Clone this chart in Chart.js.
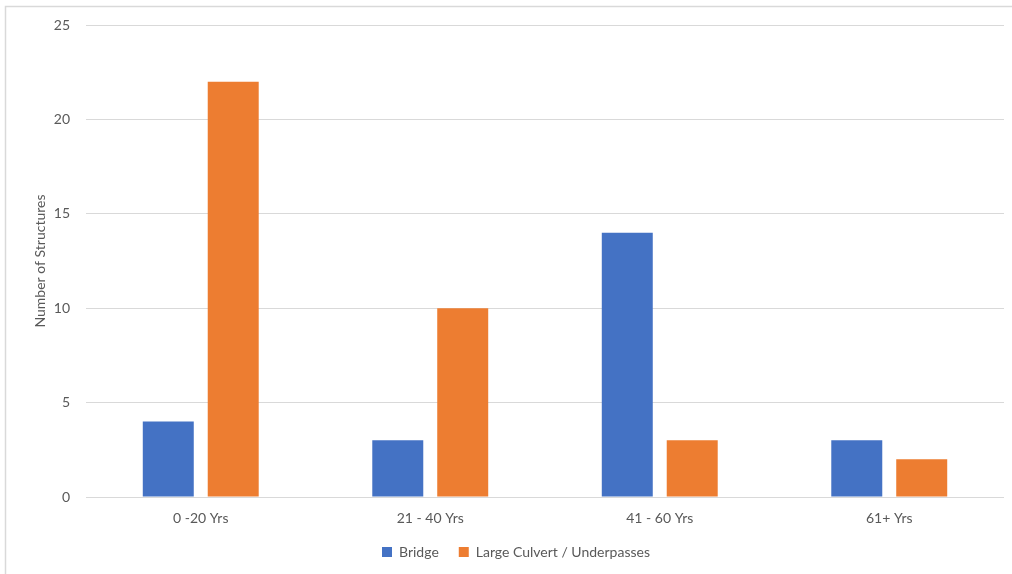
<!DOCTYPE html>
<html>
<head>
<meta charset="utf-8">
<script src="https://cdn.jsdelivr.net/npm/chart.js@4/dist/chart.umd.min.js"></script>
<style>
    html, body { margin: 0; padding: 0; background: #ffffff; }
    #wrap { width: 1012px; height: 574px; position: relative; }
</style>
</head>
<body>
<div id="wrap"><canvas id="ageChart"></canvas></div>
<script>
// Data
const ageGroups = ['0 -20 Yrs', '21 - 40 Yrs', '41 - 60 Yrs', '61+ Yrs'];
const bridgeCounts = [4, 3, 14, 3];
const culvertCounts = [22, 10, 3, 2];
const yTicks = [0, 5, 10, 15, 20, 25];

const textGray = '#595959';
const gridGray = '#d9d9d9';
const labelFont = { family: 'Lato', size: 14 };

// Outer chart frame (Excel-style light border)
const framePlugin = {
    id: 'frame',
    beforeDraw(chart) {
        const ctx = chart.ctx;
        ctx.save();
        ctx.fillStyle = '#ffffff';
        ctx.fillRect(0, 0, chart.width, chart.height);
        ctx.strokeStyle = '#d9d9d9';
        ctx.lineWidth = 1.5;
        ctx.strokeRect(5.5, 6.5, chart.width + 20, chart.height + 20);
        ctx.restore();
    }
};

const ctx = document.getElementById('ageChart').getContext('2d');
new Chart(ctx, {
    type: 'bar',
    data: {
        labels: ageGroups,
        datasets: [{
            label: 'Bridge',
            data: bridgeCounts,
            backgroundColor: '#4472C4',
            categoryPercentage: 0.566,
            barPercentage: 0.785
        }, {
            label: 'Large Culvert / Underpasses',
            data: culvertCounts,
            backgroundColor: '#ED7D31',
            categoryPercentage: 0.566,
            barPercentage: 0.785
        }]
    },
    options: {
        responsive: true,
        maintainAspectRatio: false,
        animation: false,
        layout: {
            padding: { top: 25, right: 8, left: 28, bottom: 5 }
        },
        plugins: {
            legend: {
                position: 'bottom',
                labels: {
                    boxWidth: 10,
                    boxHeight: 10,
                    padding: 20,
                    color: textGray,
                    font: labelFont
                }
            },
            tooltip: { enabled: false }
        },
        scales: {
            x: {
                grid: { display: false, drawTicks: false },
                border: { display: false },
                ticks: {
                    color: textGray,
                    padding: 13,
                    font: labelFont
                },
                afterFit(scale) { scale.height = 28; }
            },
            y: {
                min: 0,
                max: 25,
                afterBuildTicks(scale) {
                    scale.ticks = yTicks.map(v => ({ value: v }));
                },
                grid: { color: gridGray, lineWidth: 1, drawTicks: false },
                border: { display: false },
                ticks: {
                    color: textGray,
                    padding: 16,
                    font: labelFont
                },
                title: {
                    display: true,
                    text: 'Number of Structures',
                    color: textGray,
                    font: labelFont
                },
                afterFit(scale) { scale.width = 58; }
            }
        }
    },
    plugins: [framePlugin]
});
</script>
</body>
</html>
